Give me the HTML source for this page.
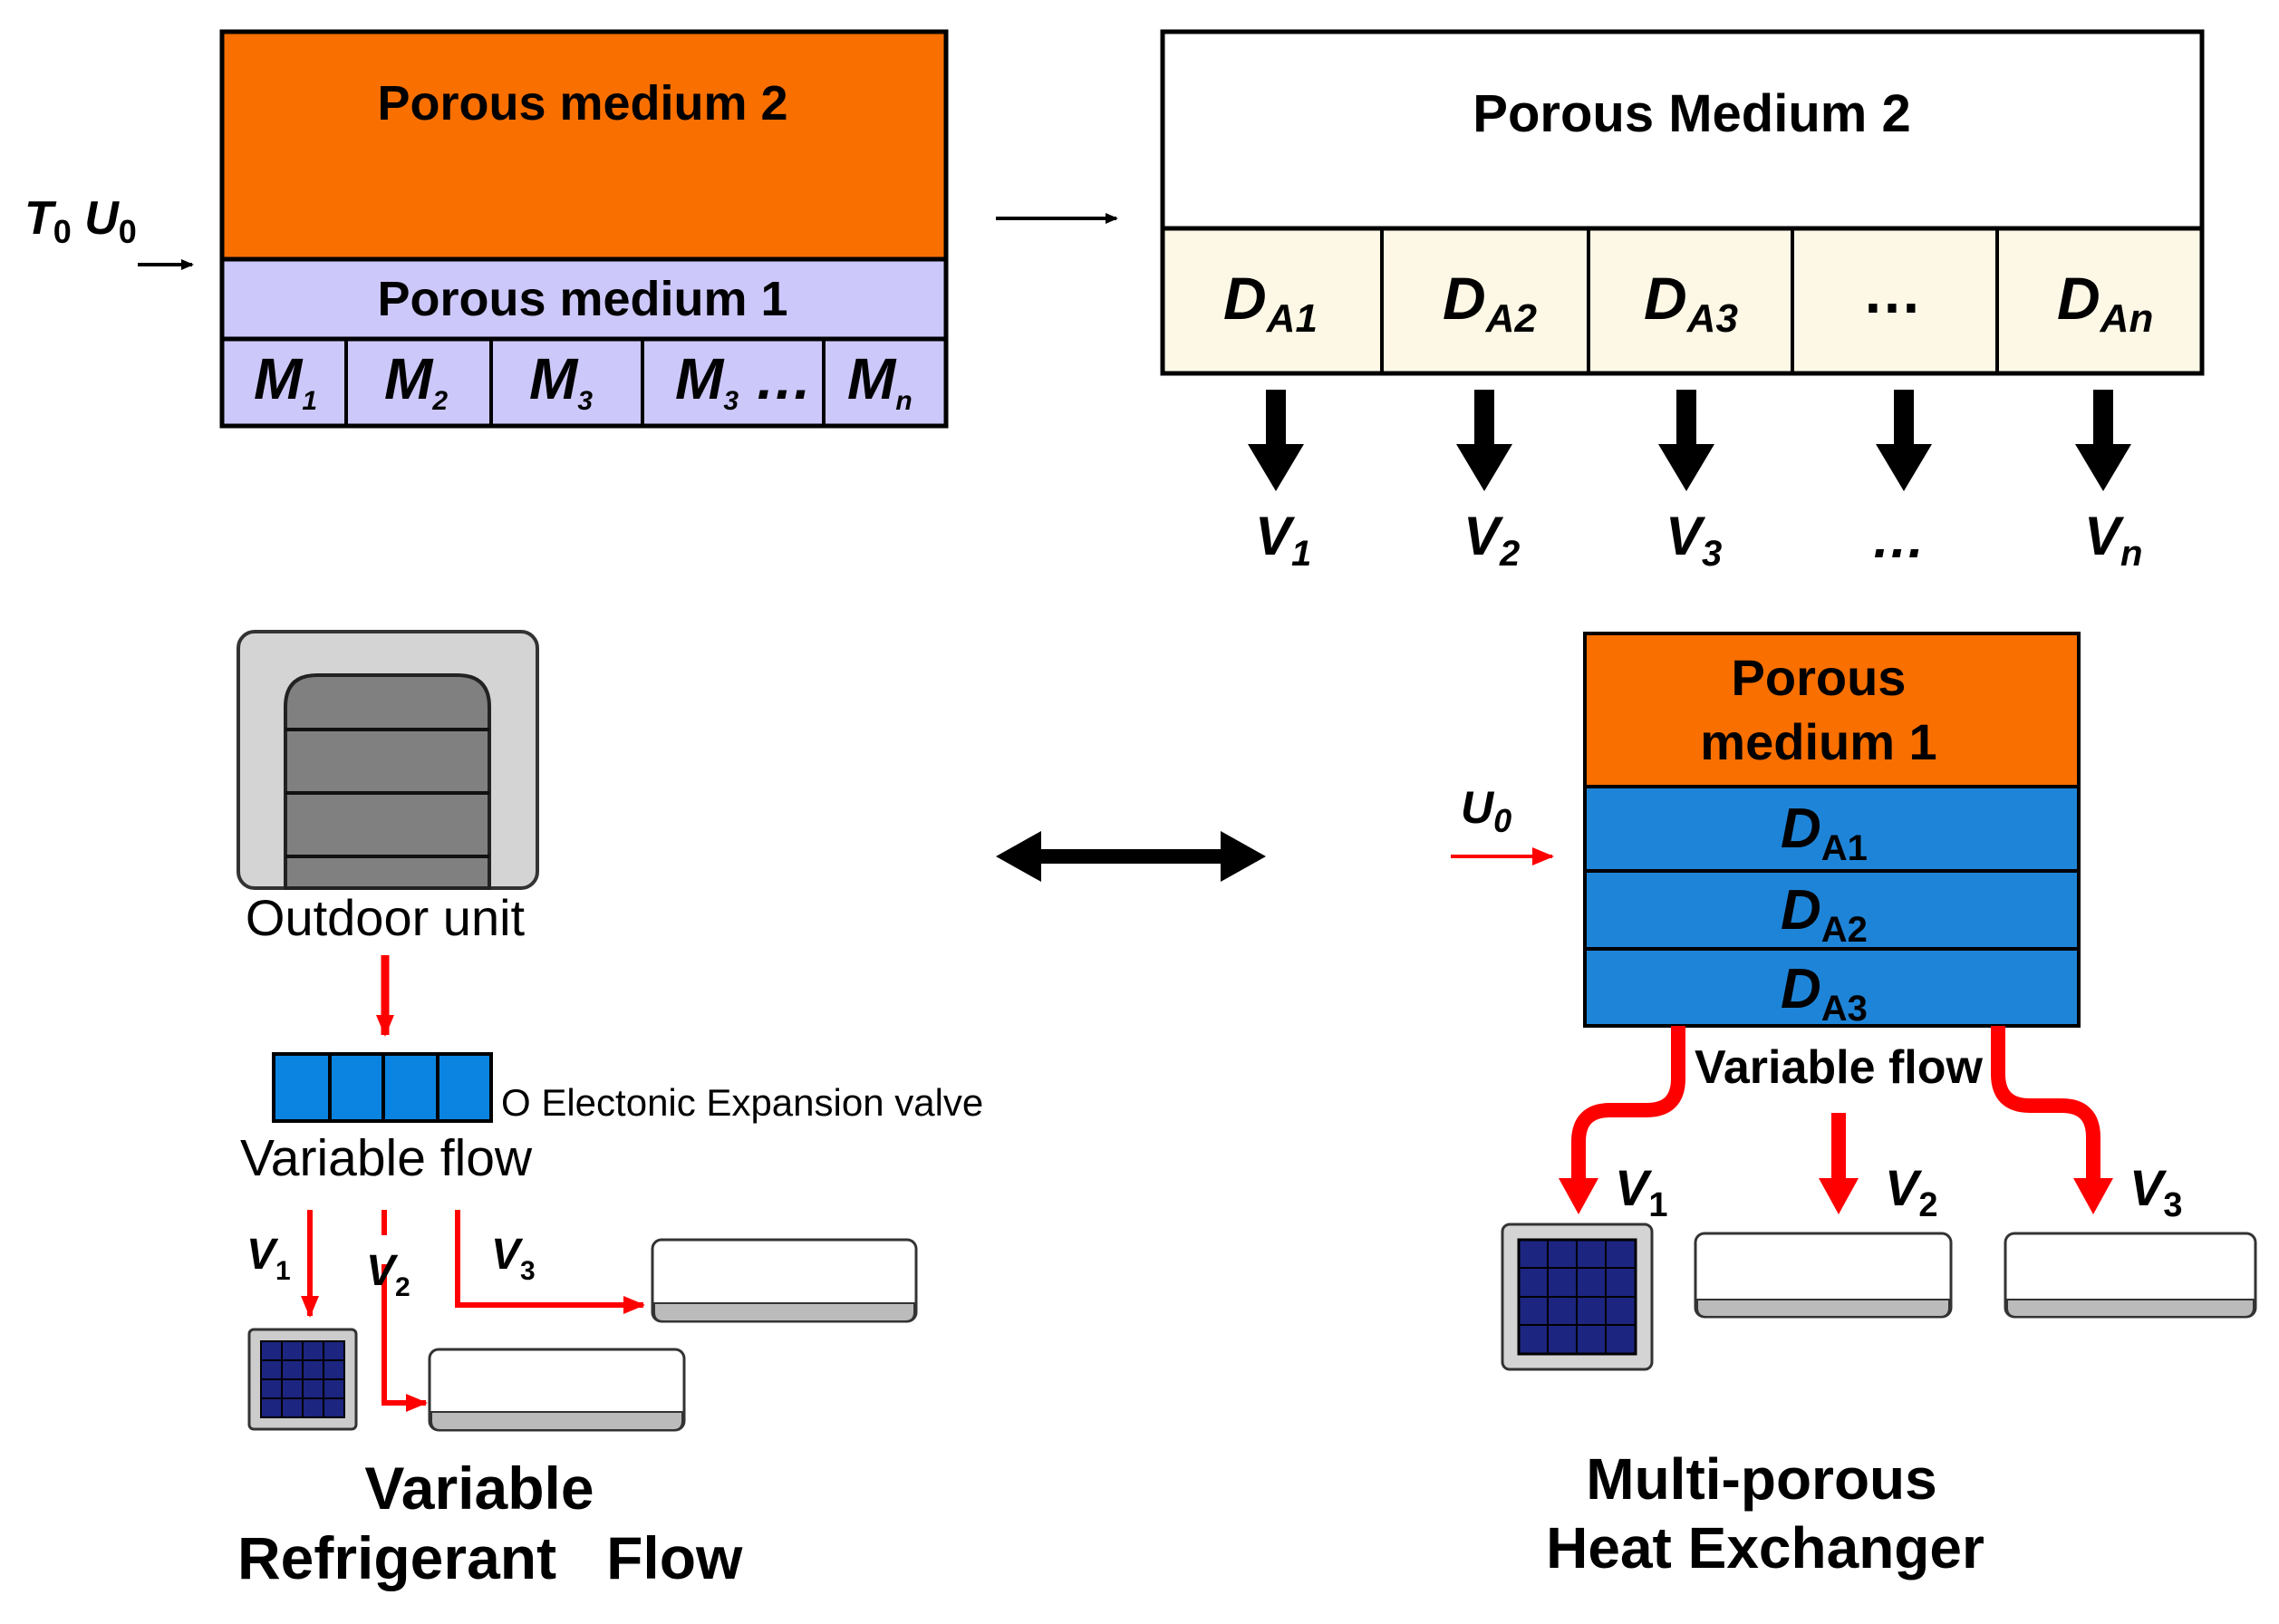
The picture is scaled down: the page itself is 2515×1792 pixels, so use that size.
<!DOCTYPE html>
<html><head><meta charset="utf-8"><style>
html,body{margin:0;padding:0;background:#fff}
svg{display:block}
text{font-family:"Liberation Sans",sans-serif}
.b{font-weight:bold}
.i{font-style:italic;font-weight:bold}
.m{font-family:"Liberation Serif",serif;font-style:italic;font-weight:bold}
</style></head><body>
<svg width="2515" height="1792" viewBox="0 0 2515 1792" xmlns="http://www.w3.org/2000/svg">
<defs>
<marker id="ab" markerWidth="14" markerHeight="12" refX="12" refY="6" orient="auto" markerUnits="userSpaceOnUse"><path d="M0,0 L14,6 L0,12 z" fill="#000"/></marker>
<marker id="ar" markerWidth="24" markerHeight="20" refX="22" refY="10" orient="auto" markerUnits="userSpaceOnUse"><path d="M0,0 L24,10 L0,20 z" fill="#f00"/></marker>
</defs>
<rect x="245" y="35" width="799" height="251" fill="#f96f00" stroke="#000" stroke-width="5"/>
<rect x="245" y="286" width="799" height="88" fill="#cdc8fa" stroke="#000" stroke-width="5"/>
<rect x="245" y="374" width="799" height="96" fill="#cdc8fa" stroke="#000" stroke-width="5"/>
<g stroke="#000" stroke-width="4"><line x1="382" y1="374" x2="382" y2="470"/><line x1="542" y1="374" x2="542" y2="470"/><line x1="709" y1="374" x2="709" y2="470"/><line x1="909" y1="374" x2="909" y2="470"/></g>
<text x="643" y="132" font-size="54" class="b" text-anchor="middle">Porous medium 2</text>
<text x="643" y="348" font-size="54" class="b" text-anchor="middle">Porous medium 1</text>
<g class="m" font-size="64">
<text x="280" y="440">M<tspan font-size="30" dy="12">1</tspan></text>
<text x="424" y="440">M<tspan font-size="30" dy="12">2</tspan></text>
<text x="584" y="440">M<tspan font-size="30" dy="12">3</tspan></text>
<text x="745" y="440">M<tspan font-size="30" dy="12">3</tspan><tspan dy="-12"> …</tspan></text>
<text x="935" y="440">M<tspan font-size="30" dy="12">n</tspan></text>
</g>
<text x="27" y="258" font-size="52" class="i">T<tspan font-size="36" dy="10" font-style="normal">0</tspan><tspan dy="-10"> U</tspan><tspan font-size="36" dy="10" font-style="normal">0</tspan></text>
<line x1="152" y1="292" x2="212" y2="292" stroke="#000" stroke-width="4" marker-end="url(#ab)"/>
<line x1="1099" y1="241" x2="1232" y2="241" stroke="#000" stroke-width="4" marker-end="url(#ab)"/>
<rect x="1283" y="35" width="1147" height="217" fill="#fff" stroke="#000" stroke-width="5"/>
<rect x="1283" y="252" width="1147" height="160" fill="#fdf8e6" stroke="#000" stroke-width="5"/>
<g stroke="#000" stroke-width="4"><line x1="1525" y1="252" x2="1525" y2="412"/><line x1="1753" y1="252" x2="1753" y2="412"/><line x1="1978" y1="252" x2="1978" y2="412"/><line x1="2204" y1="252" x2="2204" y2="412"/></g>
<text x="1867" y="145" font-size="58" class="b" text-anchor="middle">Porous Medium 2</text>
<g class="i" font-size="66">
<text x="1350" y="352">D<tspan font-size="44" dy="14">A1</tspan></text>
<text x="1592" y="352">D<tspan font-size="44" dy="14">A2</tspan></text>
<text x="1814" y="352">D<tspan font-size="44" dy="14">A3</tspan></text>
<text x="2088" y="345" font-weight="bold" font-style="normal" text-anchor="middle">…</text>
<text x="2270" y="352">D<tspan font-size="44" dy="14">An</tspan></text>
</g>
<g fill="#000">
<path d="M1397,430h22v60h20l-31,52l-31,-52h20z"/>
<path d="M1627,430h22v60h20l-31,52l-31,-52h20z"/>
<path d="M1850,430h22v60h20l-31,52l-31,-52h20z"/>
<path d="M2090,430h22v60h20l-31,52l-31,-52h20z"/>
<path d="M2310,430h22v60h20l-31,52l-31,-52h20z"/>
</g>
<g class="i" font-size="60">
<text x="1385" y="612">V<tspan font-size="40" dy="12">1</tspan></text>
<text x="1615" y="612">V<tspan font-size="40" dy="12">2</tspan></text>
<text x="1838" y="612">V<tspan font-size="40" dy="12">3</tspan></text>
<text x="2095" y="615" text-anchor="middle">…</text>
<text x="2300" y="612">V<tspan font-size="40" dy="12">n</tspan></text>
</g>
<rect x="263" y="697" width="330" height="283" rx="18" fill="#d4d4d4" stroke="#333" stroke-width="4"/>
<path d="M315,980 V780 q0,-35 35,-35 h155 q35,0 35,35 V980 z" fill="#808080" stroke="#222" stroke-width="4"/>
<g stroke="#111" stroke-width="4"><line x1="315" y1="805" x2="540" y2="805"/><line x1="315" y1="875" x2="540" y2="875"/><line x1="315" y1="945" x2="540" y2="945"/></g>
<text x="425" y="1032" font-size="56" text-anchor="middle">Outdoor unit</text>
<line x1="425" y1="1054" x2="425" y2="1142" stroke="#f00" stroke-width="9" marker-end="url(#ar)"/>
<rect x="302" y="1163" width="240" height="74" fill="#0a84e0" stroke="#000" stroke-width="4"/>
<g stroke="#000" stroke-width="4"><line x1="364" y1="1163" x2="364" y2="1237"/><line x1="423" y1="1163" x2="423" y2="1237"/><line x1="483" y1="1163" x2="483" y2="1237"/></g>
<text x="553" y="1231" font-size="42">O Electonic Expansion valve</text>
<text x="265" y="1297" font-size="57">Variable flow</text>
<g stroke="#f00" stroke-width="6" fill="none">
<line x1="342" y1="1335" x2="342" y2="1452" marker-end="url(#ar)"/>
<line x1="424" y1="1335" x2="424" y2="1363"/>
<polyline points="424,1395 424,1548 470,1548" marker-end="url(#ar)"/>
<polyline points="505,1335 505,1440 710,1440" marker-end="url(#ar)"/>
</g>
<g class="i" font-size="48">
<text x="272" y="1400">V<tspan font-size="30" dy="12" font-style="normal">1</tspan></text>
<text x="404" y="1418">V<tspan font-size="30" dy="12" font-style="normal">2</tspan></text>
<text x="542" y="1400">V<tspan font-size="30" dy="12" font-style="normal">3</tspan></text>
</g>
<rect x="275" y="1467" width="118" height="110" rx="5" fill="#ccc" stroke="#333" stroke-width="3"/>
<rect x="288" y="1480" width="92" height="84" fill="#1c2580" stroke="#000" stroke-width="2"/>
<g stroke="#000" stroke-width="2"><line x1="311" y1="1480" x2="311" y2="1564"/><line x1="334" y1="1480" x2="334" y2="1564"/><line x1="357" y1="1480" x2="357" y2="1564"/><line x1="288" y1="1501" x2="380" y2="1501"/><line x1="288" y1="1522" x2="380" y2="1522"/><line x1="288" y1="1543" x2="380" y2="1543"/></g>
<g>
<rect x="720" y="1368" width="291" height="90" rx="10" fill="#fff" stroke="#333" stroke-width="3"/>
<path d="M722,1438 h287 v10 q0,10 -10,10 h-267 q-10,0 -10,-10z" fill="#bbb" stroke="#333" stroke-width="2"/>
<rect x="474" y="1489" width="281" height="89" rx="10" fill="#fff" stroke="#333" stroke-width="3"/>
<path d="M476,1558 h277 v10 q0,10 -10,10 h-257 q-10,0 -10,-10z" fill="#bbb" stroke="#333" stroke-width="2"/>
</g>
<text x="529" y="1665" font-size="66" class="b" text-anchor="middle">Variable</text>
<text x="262" y="1742" font-size="66" class="b" xml:space="preserve">Refrigerant   Flow</text>
<path d="M1099,945 l50,-28 v20 h198 v-20 l50,28 l-50,28 v-20 h-198 v20z" fill="#000"/>
<rect x="1749" y="699" width="545" height="169" fill="#f96f00" stroke="#000" stroke-width="4"/>
<rect x="1749" y="868" width="545" height="93" fill="#1e84d8" stroke="#000" stroke-width="4"/>
<rect x="1749" y="961" width="545" height="86" fill="#1e84d8" stroke="#000" stroke-width="4"/>
<rect x="1749" y="1047" width="545" height="85" fill="#1e84d8" stroke="#000" stroke-width="4"/>
<text x="2007" y="767" font-size="56" class="b" text-anchor="middle">Porous</text>
<text x="2007" y="838" font-size="56" class="b" text-anchor="middle">medium 1</text>
<g class="i" font-size="62">
<text x="1965" y="935">D<tspan font-size="40" dy="14" font-style="normal">A1</tspan></text>
<text x="1965" y="1025">D<tspan font-size="40" dy="14" font-style="normal">A2</tspan></text>
<text x="1965" y="1112">D<tspan font-size="40" dy="14" font-style="normal">A3</tspan></text>
</g>
<text x="1612" y="908" font-size="50" class="i">U<tspan font-size="36" dy="10">0</tspan></text>
<line x1="1601" y1="945" x2="1713" y2="945" stroke="#f00" stroke-width="4" marker-end="url(#ar)"/>
<g stroke="#f00" stroke-width="16" fill="none">
<path d="M1852,1132 V1190 q0,35 -35,35 h-40 q-35,0 -35,35 V1305"/>
<line x1="2029" y1="1228" x2="2029" y2="1305"/>
<path d="M2205,1132 V1185 q0,35 35,35 h35 q35,0 35,35 V1305"/>
</g>
<g fill="#f00">
<path d="M1720,1300 h44 l-22,40z"/>
<path d="M2007,1300 h44 l-22,40z"/>
<path d="M2288,1300 h44 l-22,40z"/>
</g>
<text x="2029" y="1195" font-size="52" class="b" text-anchor="middle">Variable flow</text>
<g class="i" font-size="56">
<text x="1782" y="1330">V<tspan font-size="38" dy="12" font-style="normal">1</tspan></text>
<text x="2080" y="1330">V<tspan font-size="38" dy="12" font-style="normal">2</tspan></text>
<text x="2350" y="1330">V<tspan font-size="38" dy="12" font-style="normal">3</tspan></text>
</g>
<rect x="1658" y="1351" width="165" height="160" rx="8" fill="#d4d4d4" stroke="#333" stroke-width="3"/>
<rect x="1676" y="1368" width="129" height="126" fill="#1c2580" stroke="#000" stroke-width="3"/>
<g stroke="#000" stroke-width="2"><line x1="1708" y1="1368" x2="1708" y2="1494"/><line x1="1740" y1="1368" x2="1740" y2="1494"/><line x1="1772" y1="1368" x2="1772" y2="1494"/><line x1="1676" y1="1399" x2="1805" y2="1399"/><line x1="1676" y1="1431" x2="1805" y2="1431"/><line x1="1676" y1="1462" x2="1805" y2="1462"/></g>
<rect x="1871" y="1361" width="282" height="92" rx="10" fill="#fff" stroke="#333" stroke-width="3"/>
<path d="M1873,1434 h278 v9 q0,10 -10,10 h-258 q-10,0 -10,-10z" fill="#bbb" stroke="#333" stroke-width="2"/>
<rect x="2213" y="1361" width="276" height="92" rx="10" fill="#fff" stroke="#333" stroke-width="3"/>
<path d="M2215,1434 h272 v9 q0,10 -10,10 h-252 q-10,0 -10,-10z" fill="#bbb" stroke="#333" stroke-width="2"/>
<text x="1944" y="1654" font-size="64" class="b" text-anchor="middle">Multi-porous</text>
<text x="1948" y="1730" font-size="64" class="b" text-anchor="middle">Heat Exchanger</text>
</svg>
</body></html>
